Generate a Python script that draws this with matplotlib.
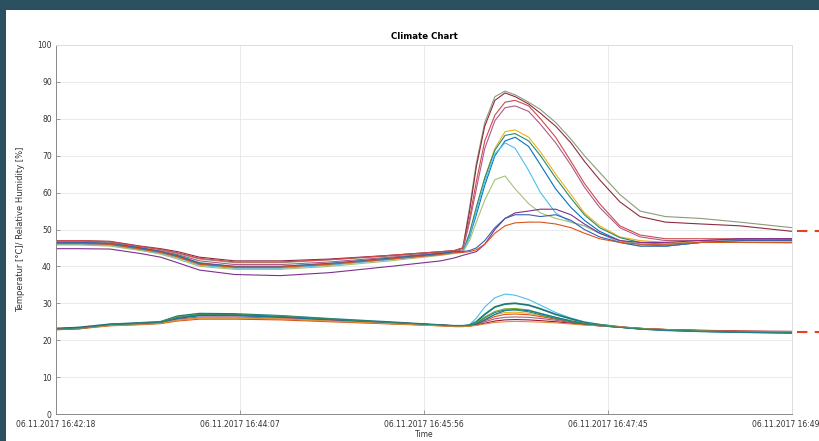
from matplotlib import pyplot as plt
from matplotlib.patches import Rectangle
import matplotlib.transforms as mtransforms

# time in seconds after 06.11.2017 16:42:18
t_sec = [0, 14, 32, 50, 62, 72, 85, 106, 133, 162, 198, 228, 236,
         241, 245, 249, 254, 260, 266, 272, 280, 287, 296, 305, 313, 322,
         334, 346, 361, 382, 405, 436]

tick_sec = [0, 109, 218, 327, 436]
tick_labels = ['06.11.2017 16:42:18', '06.11.2017 16:44:07', '06.11.2017 16:45:56',
               '06.11.2017 16:47:45', '06.11.2017 16:49:34']

# relative humidity [%]
hum_1 = [46.8, 46.8, 46.5, 45.3, 44.5, 43.5, 42, 41, 41, 41.8, 42.8, 43.8, 44,
         45, 56, 68, 79, 86, 87.5, 86.5, 84.5, 82.5, 79, 74.5, 70, 65.5, 59.5, 55, 53.5, 53, 52, 50.5]
hum_2 = [47, 47, 46.8, 45.5, 44.8, 44, 42.5, 41.5, 41.5, 42, 43, 44, 44.3,
         45, 55, 67, 78, 85, 87, 86, 84, 81.5, 78, 73.5, 68.5, 63.5, 57.5, 53.5, 52, 51.5, 51, 49.5]
hum_3 = [47, 47, 46.7, 45.4, 44.6, 43.7, 42.2, 41.2, 41.2, 41.8, 43, 44, 44.3,
         45, 53, 63, 74, 81, 84.5, 85, 83.5, 80, 75, 68.5, 62.5, 57, 51, 48.5, 47.5, 47.5, 47.5, 47.5]
hum_4 = [46.5, 46.5, 46.3, 45, 44.2, 43.2, 41.5, 40.5, 40.5, 41.2, 42.5, 43.6, 44,
         44.5, 52, 61, 72, 79.5, 83, 83.5, 82, 78.5, 73.5, 67.5, 61.5, 56, 50.5, 48, 47, 47, 47.3, 47.5]
hum_5 = [46, 46, 45.8, 44.6, 43.7, 42.5, 40.5, 39.6, 39.6, 40.5, 42, 43.3, 43.8,
         44, 49, 56, 64, 72, 76.5, 77, 75, 71, 65, 59.5, 54.5, 51, 48, 47, 46.5, 46.5, 46.5, 46.3]
hum_6 = [46.5, 46.5, 46.2, 45, 44, 43, 41, 40, 40, 40.8, 42.2, 43.5, 44,
         44, 49, 56, 64, 71.5, 75.5, 76, 74, 70, 64, 58.5, 54, 50.5, 47.8, 46.5, 46, 46.5, 47, 47]
hum_7 = [46.3, 46.3, 46, 44.8, 43.8, 42.8, 40.7, 39.8, 39.8, 40.6, 42, 43.4, 43.9,
         44, 48, 54, 62, 70, 74, 75, 72.5, 67.5, 61, 56, 52.5, 49.5, 47, 46, 45.5, 46.5, 47, 47.2]
hum_8 = [46, 46, 45.7, 44.5, 43.5, 42.3, 40.3, 39.5, 39.5, 40.3, 41.8, 43.2, 43.8,
         44, 48, 55, 63, 70.5, 73.5, 72, 66, 60, 54.5, 52, 51, 49, 46.5, 45.5, 45.5, 46.5, 47, 47]
hum_9 = [45.8, 45.8, 45.5, 44.3, 43.3, 42, 40, 39.2, 39.2, 40, 41.5, 43, 43.5,
         43.8, 47, 52, 58, 63.5, 64.5, 61, 57, 54.5, 53, 52, 51, 49, 47, 46, 46, 46.5, 47, 47]
hum_10 = [44.8, 44.8, 44.7, 43.5, 42.5, 41, 39, 37.8, 37.5, 38.3, 40, 41.5, 42.3,
          43, 43.5, 44, 46, 50, 53, 54.5, 55, 55.5, 55.5, 54, 51.5, 49, 47, 46.5, 46.5, 47, 47.5, 47.5]
hum_11 = [46.5, 46.5, 46.2, 45, 44, 42.8, 40.8, 40, 40, 40.8, 42.2, 43.5, 44,
          44, 44.3, 45, 47, 50.5, 53, 54, 54, 53.5, 54, 52.5, 50, 48, 46.5, 45.5, 45.5, 46.5, 47, 47]
hum_12 = [46.2, 46.2, 46, 44.7, 43.8, 42.6, 40.6, 39.8, 39.8, 40.6, 42, 43.2, 43.7,
          43.8, 44, 44.5, 46, 49, 51, 51.8, 52, 52, 51.5, 50.5, 49, 47.5, 46.5, 46, 46, 46.5, 46.5, 46.5]

# temperature [°C]
temp_1 = [23, 23.6, 24.4, 24.6, 24.8, 26, 26.6, 26.6, 26.2, 25.5, 24.7, 24, 23.8,
          23.8, 24.2, 26, 29, 31.5, 32.5, 32.2, 31, 29.5, 27.5, 26, 25, 24.3, 23.6, 23.1, 22.7, 22.4, 22.1, 21.9]
temp_2 = [23.2, 23.4, 24.3, 24.7, 25, 26.5, 27.2, 27.1, 26.6, 25.8, 24.9, 24.1, 23.9,
          23.9, 24.1, 25, 27, 29, 29.8, 30, 29.5, 28.5, 27, 25.8, 24.8, 24.2, 23.6, 23.1, 22.7, 22.4, 22.2, 22]
temp_3 = [23.1, 23.3, 24.2, 24.6, 24.9, 26.3, 27, 26.9, 26.5, 25.7, 24.8, 24, 23.8,
          23.8, 24, 24.8, 26.3, 27.8, 28.5, 28.6, 28.2, 27.3, 26.2, 25.3, 24.6, 24.1, 23.6, 23.1, 22.8, 22.5, 22.3, 22.1]
temp_4 = [22.9, 23.2, 24, 24.3, 24.6, 25.5, 26, 26, 25.7, 25.2, 24.5, 23.9, 23.7,
          23.7, 23.9, 24.5, 25.7, 26.9, 27.5, 27.6, 27.3, 26.7, 25.9, 25.1, 24.5, 24, 23.6, 23.2, 22.8, 22.5, 22.3, 22.2]
temp_5 = [22.8, 23.1, 23.9, 24.2, 24.5, 25.2, 25.7, 25.7, 25.5, 25, 24.4, 23.9, 23.7,
          23.7, 23.8, 24.3, 25.3, 26.4, 27, 27.1, 26.9, 26.4, 25.7, 25, 24.4, 24, 23.6, 23.2, 22.9, 22.6, 22.4, 22.2]
temp_6 = [23, 23.3, 24.1, 24.4, 24.7, 25.7, 26.3, 26.3, 26, 25.4, 24.6, 24, 23.8,
          23.8, 23.9, 24.2, 25, 25.8, 26.2, 26.3, 26.2, 25.9, 25.4, 24.8, 24.3, 23.9, 23.5, 23.2, 22.9, 22.6, 22.4, 22.3]
temp_7 = [23.1, 23.4, 24.2, 24.5, 24.8, 26, 26.8, 26.8, 26.3, 25.6, 24.8, 24.1, 23.9,
          23.9, 23.9, 24.1, 24.6, 25.2, 25.5, 25.6, 25.5, 25.3, 25, 24.6, 24.2, 23.9, 23.5, 23.2, 22.9, 22.7, 22.5, 22.4]
temp_8 = [22.9, 23.1, 24.3, 24.6, 24.8, 25.9, 26.7, 26.7, 26.3, 25.6, 24.8, 24.1, 23.9,
          23.9, 24, 24.4, 25.5, 27, 28, 28.3, 28, 27.2, 26.2, 25.2, 24.5, 24, 23.5, 23, 22.7, 22.4, 22.2, 22]
temp_9 = [22.9, 23.2, 24, 24.3, 24.6, 25.4, 26, 26, 25.8, 25.2, 24.5, 23.9, 23.7,
          23.7, 23.8, 24, 24.4, 24.8, 25, 25.1, 25, 24.9, 24.7, 24.4, 24.1, 23.9, 23.6, 23.2, 22.9, 22.6, 22.4, 22.3]
temp_10 = [23, 23.3, 24.2, 24.5, 24.8, 26.1, 26.9, 26.9, 26.4, 25.7, 24.8, 24.1, 23.9,
           23.9, 24, 24.6, 26, 27.5, 28.2, 28.2, 27.7, 26.9, 25.9, 25.1, 24.5, 24, 23.5, 23.1, 22.8, 22.5, 22.3, 22.1]

# end values marked on the right side
marker_levels = [49.6, 22.2]

hum_series = [hum_1, hum_2, hum_3, hum_4, hum_5, hum_6, hum_7, hum_8, hum_9, hum_10, hum_11, hum_12]
hum_colors = ['#8a9c78', '#8e2b45', '#d04a4a', '#b05a8a', '#EDB120', '#2a8a6a',
              '#0072BD', '#4DBEEE', '#a8c07a', '#7E2F8E', '#3a5fb0', '#D95319']
temp_series = [temp_1, temp_2, temp_3, temp_4, temp_5, temp_6, temp_7, temp_8, temp_9, temp_10]
temp_colors = ['#4DBEEE', '#1b7a78', '#77AC30', '#EDB120', '#D95319', '#b05a8a',
               '#A2142F', '#0072BD', '#e0903a', '#2a8a6a']

fig = plt.figure(figsize=(8.19, 4.41), dpi=100, facecolor='#2b5060')
# white panel inside the dark frame
fig.patches.append(Rectangle((6 / 819, 0), 1, 1 - 10 / 441, transform=fig.transFigure,
                             facecolor='white', edgecolor='none', zorder=-10))

ax = fig.add_axes([56 / 819, 27 / 441, 736 / 819, 369 / 441])
ax.set_zorder(1)

for vals, col in zip(hum_series, hum_colors):
    ax.plot(t_sec, vals, color=col, linewidth=0.8)
for vals, col in zip(temp_series, temp_colors):
    lw = 1.3 if col == '#1b7a78' else 0.8
    ax.plot(t_sec, vals, color=col, linewidth=lw)

ax.set_xlim(0, 436)
ax.set_ylim(0, 100)
ax.set_yticks(range(0, 101, 10))
ax.set_xticks(tick_sec)
ax.set_xticklabels(tick_labels)
ax.tick_params(direction='in', length=3, width=0.5, colors='#777777',
               labelcolor='#333333', labelsize=5.5, pad=3)
ax.tick_params(axis='x', pad=4)
ax.grid(color='#e6e6e6', linewidth=0.6)
ax.set_axisbelow(True)
for side in ['left', 'bottom']:
    ax.spines[side].set_color('#8a8a8a')
    ax.spines[side].set_linewidth(0.7)
for side in ['top', 'right']:
    ax.spines[side].set_color('#dddddd')
    ax.spines[side].set_linewidth(0.7)

ax.set_title('Climate Chart', fontsize=6.2, fontweight='bold', pad=4)
ax.set_xlabel('Time', fontsize=5.5, color='#333333')
ax.xaxis.set_label_coords(0.5, -16 / 369)
ax.set_ylabel('Temperatur [°C]/ Relative Humidity [%]', fontsize=6, color='#333333')
ax.yaxis.set_label_coords(-31 / 736, 0.5)

# red dashed markers outside the axes
trans = mtransforms.blended_transform_factory(ax.transAxes, ax.transData)
for lvl in marker_levels:
    ax.plot([1.007, 1.04], [lvl, lvl], transform=trans, color='#e8401c', linewidth=1.5,
            linestyle=(0, (5, 3.5)), clip_on=False)

plt.savefig('out.png', dpi=100, facecolor=fig.get_facecolor())
